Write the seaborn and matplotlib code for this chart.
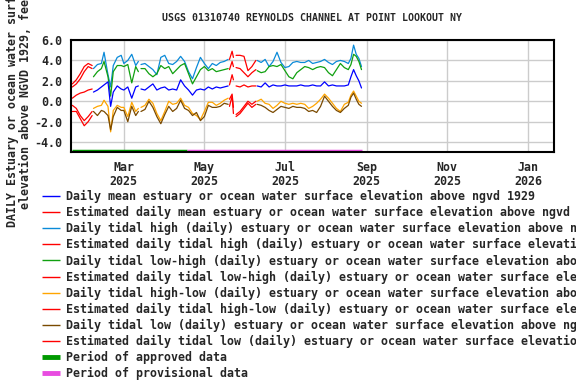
import numpy as np
import pandas as pd
import seaborn as sns
import matplotlib.pyplot as plt
from matplotlib.lines import Line2D

nan = np.nan

# daily values (3-day sampling), nan = break in the record
dates = ['2025-02-06', '2025-02-09', '2025-02-12', '2025-02-14', '2025-02-17', '2025-02-19',
         '2025-02-21', '2025-02-24', '2025-02-27', '2025-03-01', '2025-03-04', '2025-03-07',
         '2025-03-10', '2025-03-12', '2025-03-13', '2025-03-14', '2025-03-17', '2025-03-20',
         '2025-03-23', '2025-03-26', '2025-03-29', '2025-04-01', '2025-04-04', '2025-04-07',
         '2025-04-10', '2025-04-13', '2025-04-16', '2025-04-19', '2025-04-22', '2025-04-25',
         '2025-04-28', '2025-05-01', '2025-05-04', '2025-05-07', '2025-05-10', '2025-05-13',
         '2025-05-16', '2025-05-19', '2025-05-30', '2025-06-10', '2025-06-13', '2025-06-16',
         '2025-06-19', '2025-06-22', '2025-06-25', '2025-06-28', '2025-07-01', '2025-07-04',
         '2025-07-07', '2025-07-10', '2025-07-13', '2025-07-16', '2025-07-19', '2025-07-22',
         '2025-07-25', '2025-07-28', '2025-07-31', '2025-08-03', '2025-08-06', '2025-08-09',
         '2025-08-12', '2025-08-15', '2025-08-18', '2025-08-20', '2025-08-22', '2025-08-24',
         '2025-08-26', '2025-08-28']

daily_mean = [0.9, 1.1, 1.4, 1.6, 1.9, -0.5, 0.9, 1.5, 1.2, 1.1, 1.4, 0.3,
              1.4, 1.5, nan, 1.2, 1.1, 1.4, 1.7, 1.1, 1.3, 1.4, 1.1, 1.2,
              1.1, 2.1, 1.5, 1.1, 0.6, 1.1, 1.2, 1.1, 1.4, 1.2, 1.4, 1.3,
              1.4, 1.5, nan, 1.5, 1.4, 1.8, 1.4, 1.6, 1.5, 1.5, 1.6, 1.5,
              1.5, 1.5, 1.6, 1.5, 1.5, 1.6, 1.5, 1.5, 1.9, 1.5, 1.6, 1.5,
              1.5, 1.5, 1.6, 2.4, 3.1, 2.5, 2.0, 1.3]

tidal_high = [3.2, 3.6, 3.7, 4.8, 2.6, 1.4, 3.5, 4.3, 4.5, 3.7, 4.0, 4.6,
              3.5, 3.9, nan, 3.6, 3.7, 3.4, 3.1, 2.6, 4.3, 4.5, 3.7, 3.6,
              3.9, 4.4, 3.9, 2.9, 2.2, 3.3, 4.3, 3.7, 3.2, 3.7, 3.5, 3.8,
              3.9, 4.1, nan, 4.0, 3.8, 4.1, 3.4, 3.9, 4.8, 3.8, 3.3, 3.4,
              3.8, 3.9, 3.8, 3.8, 4.0, 3.7, 3.8, 3.9, 4.1, 3.8, 3.6, 3.9,
              4.0, 3.9, 3.7, 4.2, 5.5, 4.6, 4.2, 3.4]

tidal_low_high = [2.4, 2.9, 3.2, 3.9, 2.4, 0.5, 2.9, 3.5, 3.5, 3.4, 3.6, 1.8,
                  3.4, 2.9, nan, 3.2, 3.2, 2.7, 2.4, 2.7, 3.5, 3.2, 3.4, 2.7,
                  3.1, 3.5, 3.7, 2.7, 1.7, 2.4, 3.1, 3.4, 3.0, 3.2, 2.9, 3.0,
                  3.1, 3.2, nan, 3.0, 2.8, 2.9, 3.4, 3.5, 3.4, 3.6, 3.0, 2.4,
                  2.2, 2.8, 3.1, 3.4, 3.3, 3.1, 3.3, 3.4, 3.3, 2.8, 2.5, 3.1,
                  3.7, 3.3, 3.1, 3.6, 4.6, 4.4, 3.9, 3.1]

tidal_high_low = [-0.7, -0.5, -0.4, 0.1, -0.5, -3.0, -0.9, -0.4, -0.6, -0.6, -1.5, -0.1,
                  -1.0, -0.7, nan, -0.6, -0.4, 0.2, -0.2, -1.2, -1.9, -1.0, 0.0, -0.3,
                  -0.2, 0.3, -0.4, -0.6, -1.2, -1.4, -1.8, -1.0, -0.1, -0.1, -0.4, -0.2,
                  0.1, 0.3, nan, 0.0, 0.2, -0.2, -0.3, -0.7, -0.4, 0.0, -0.2, -0.3,
                  -0.2, -0.3, -0.2, -0.3, -0.7, -0.5, -0.2, 0.2, 0.7, 0.3, -0.2, -0.7,
                  -1.0, -0.3, -0.1, 0.6, 1.0, 0.5, 0.0, -0.2]

tidal_low = [-1.0, -1.4, -0.9, -1.0, -1.4, -2.8, -1.5, -0.6, -0.9, -0.9, -2.0, -0.5,
             -1.4, -1.0, nan, -1.0, -0.8, 0.0, -0.6, -1.5, -2.2, -1.3, -0.5, -1.0,
             -0.7, 0.1, -0.7, -0.9, -1.4, -1.1, -1.9, -1.5, -0.4, -0.6, -0.6, -0.5,
             -0.2, -0.3, nan, -0.3, -0.4, -0.6, -0.9, -1.1, -0.8, -0.5, -0.6, -0.7,
             -0.5, -0.6, -0.6, -0.7, -1.0, -0.9, -1.1, -0.5, 0.5, 0.0, -0.5, -0.9,
             -1.1, -0.7, -0.4, 0.4, 0.8, 0.2, -0.3, -0.5]

# estimated values
est_dates = ['2025-01-21', '2025-01-24', '2025-01-27', '2025-01-30', '2025-02-02', '2025-02-05',
             '2025-03-01', '2025-05-20', '2025-05-22', '2025-05-23', '2025-05-24', '2025-05-25',
             '2025-05-28', '2025-05-31', '2025-06-03', '2025-06-06', '2025-06-09']
est_mean = [0.3, 0.6, 0.8, 0.9, 1.1, 1.2, nan, 1.6, 2.6, 2.1, nan, 1.5, 1.4, 1.6, 1.4, 1.5, 1.5]
est_high = [1.7, 2.1, 2.7, 3.4, 3.7, 3.5, nan, 4.1, 4.9, 4.3, nan, 4.5, 4.5, 4.4, 3.0, 3.4, 4.0]
est_low_high = [1.4, 1.7, 2.2, 2.9, 3.4, 3.2, nan, 3.1, 3.9, 3.4, nan, 3.3, 3.2, 2.8, 2.4, 2.8, 3.1]
est_high_low = [-0.4, -0.7, -1.4, -1.9, -1.5, -1.0, nan, 0.2, 0.7, -0.6, nan, -1.3, -1.0, -0.5, 0.0, -0.3, 0.0]
est_low = [-1.0, -1.0, -1.7, -2.4, -2.0, -1.4, nan, -0.5, 0.5, -1.2, nan, -1.5, -1.2, -0.7, -0.2, -0.6, -0.3]

approved = ['2025-01-21', '2025-04-18']
provisional = ['2025-04-18', '2025-08-28']

tick_dates = ['2025-03-01', '2025-05-01', '2025-07-01', '2025-09-01', '2025-11-01', '2026-01-01']
tick_labels = ['Mar\n2025', 'May\n2025', 'Jul\n2025', 'Sep\n2025', 'Nov\n2025', 'Jan\n2026']

labels = [
    'Daily mean estuary or ocean water surface elevation above ngvd 1929',
    'Estimated daily mean estuary or ocean water surface elevation above ngvd 1929',
    'Daily tidal high (daily) estuary or ocean water surface elevation above ngvd 1929',
    'Estimated daily tidal high (daily) estuary or ocean water surface elevation above ngvd 1929',
    'Daily tidal low-high (daily) estuary or ocean water surface elevation above ngvd 1929',
    'Estimated daily tidal low-high (daily) estuary or ocean water surface elevation above ngvd 1929',
    'Daily tidal high-low (daily) estuary or ocean water surface elevation above ngvd 1929',
    'Estimated daily tidal high-low (daily) estuary or ocean water surface elevation above ngvd 1929',
    'Daily tidal low (daily) estuary or ocean water surface elevation above ngvd 1929',
    'Estimated daily tidal low (daily) estuary or ocean water surface elevation above ngvd 1929',
    'Period of approved data',
    'Period of provisional data',
]

c_mean = '#0000ff'
c_est = '#ff0000'
c_high = '#0a8ad8'
c_lowhigh = '#10a010'
c_highlow = '#ffa500'
c_low = '#7a4a00'
c_appr = '#009900'
c_prov = '#e84ce0'

sns.set_style('white')
plt.rcParams['font.family'] = ['DejaVu Sans Mono']
plt.rcParams['font.weight'] = 'bold'

fig = plt.figure(figsize=(5.76, 3.84), dpi=100)
ax = fig.add_axes([0.1233, 0.6034, 0.8390, 0.2932])


def draw(d, v, color):
    df = pd.DataFrame({'date': pd.to_datetime(d), 'value': v})
    df['seg'] = df['value'].isna().cumsum()
    df = df.dropna()
    sns.lineplot(data=df, x='date', y='value', units='seg', estimator=None,
                 color=color, lw=0.9, ax=ax, legend=False)


draw(dates, tidal_high, c_high)
draw(dates, tidal_low_high, c_lowhigh)
draw(dates, daily_mean, c_mean)
draw(dates, tidal_high_low, c_highlow)
draw(dates, tidal_low, c_low)
for v in [est_high, est_low_high, est_mean, est_high_low, est_low]:
    draw(est_dates, v, c_est)

ylo, yhi = -5.0, 6.03
bar_y = ylo + 0.16
ax.plot(pd.to_datetime(approved), [bar_y, bar_y], color=c_appr, lw=2.5, solid_capstyle='butt')
ax.plot(pd.to_datetime(provisional), [bar_y, bar_y], color=c_prov, lw=2.5, solid_capstyle='butt')

ax.set_xlim(pd.Timestamp('2025-01-20'), pd.Timestamp('2026-01-21'))
ax.set_ylim(ylo, yhi)
ax.set_xticks(pd.to_datetime(tick_dates))
ax.set_xticklabels(tick_labels, fontsize=8.35, fontweight='bold', linespacing=1.1)
ax.set_yticks([-4, -2, 0, 2, 4, 6])
ax.set_yticklabels(['%.1f' % t for t in [-4, -2, 0, 2, 4, 6]], fontsize=8.35, fontweight='bold')
ax.tick_params(length=0, pad=6)
ax.grid(True, color='#cccccc', lw=1)
ax.set_xlabel('')
ax.set_ylabel('')
for s in ax.spines.values():
    s.set_visible(True)
    s.set_color('black')
    s.set_linewidth(1.5)

fig.text(0.5425, 0.953, 'USGS 01310740 REYNOLDS CHANNEL AT POINT LOOKOUT NY',
         ha='center', va='center', fontsize=7.1, fontweight='bold')
fig.text(0.033, 0.738, 'DAILY Estuary or ocean water surface\nelevation above NGVD 1929, feet',
         rotation=90, ha='center', va='center', fontsize=8.35, fontweight='bold',
         multialignment='center', linespacing=1.0)

colors = [c_mean, c_est, c_high, c_est, c_lowhigh, c_est, c_highlow, c_est, c_low, c_est, c_appr, c_prov]
widths = [1] * 10 + [3.5, 3.5]
handles = [Line2D([], [], color=c, lw=w, solid_capstyle='butt') for c, w in zip(colors, widths)]
fig.legend(handles, labels, loc='upper left', bbox_to_anchor=(42 / 576, 1 - 190 / 384),
           frameon=False, borderpad=0, borderaxespad=0, handlelength=1.55,
           handletextpad=0.5, labelspacing=0.26, prop={'size': 8.35, 'weight': 'bold'})

fig.savefig('out.png', dpi=100)
